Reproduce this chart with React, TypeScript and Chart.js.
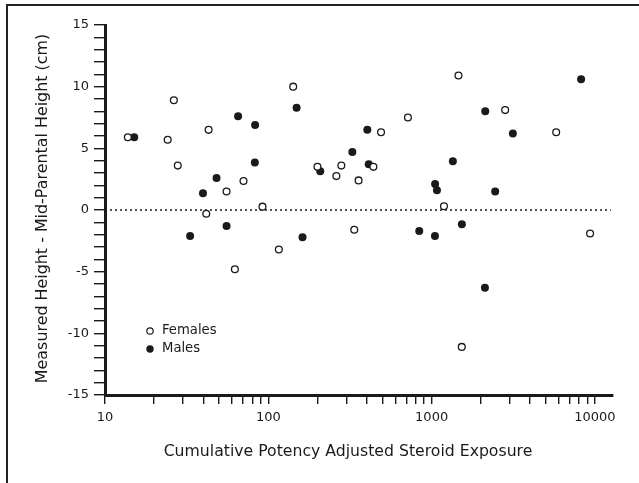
import React, { useEffect, useRef } from "react";
import { Chart, registerables } from "chart.js";

Chart.register(...registerables);

// ---- Data ----
const femaleX = [13.8, 24.2, 26.4, 27.9, 41.7, 43.1, 55.5, 62.4, 70.5, 92.1, 116, 142, 200, 261, 280, 336, 357, 440, 490, 716, 1190, 1460, 1530, 2820, 5790, 9340];
const femaleY = [5.9, 5.7, 8.9, 3.6, -0.3, 6.5, 1.5, -4.8, 2.35, 0.27, -3.2, 10.0, 3.5, 2.75, 3.6, -1.6, 2.4, 3.5, 6.3, 7.5, 0.3, 10.9, -11.1, 8.1, 6.3, -1.9];

const maleX = [15.1, 33.2, 39.8, 48.2, 55.5, 65.3, 83.0, 82.7, 149, 162, 208, 327, 404, 412, 840, 1050, 1078, 1048, 1349, 1532, 2120, 2130, 2450, 3143, 8227];
const maleY = [5.9, -2.1, 1.35, 2.6, -1.3, 7.6, 6.9, 3.85, 8.3, -2.2, 3.15, 4.7, 6.5, 3.7, -1.7, 2.1, 1.6, -2.1, 3.95, -1.15, -6.3, 8.0, 1.5, 6.2, 10.6];

const refLineX = [10, 12500];
const refLineY = [0, 0];

const xTickValues = [10, 20, 30, 40, 50, 60, 70, 80, 90, 100, 200, 300, 400, 500, 600, 700, 800, 900, 1000, 2000, 3000, 4000, 5000, 6000, 7000, 8000, 9000, 10000];
const xLabelValues = [10, 100, 1000, 10000];
const yTickValues = [-15, -14, -13, -12, -11, -10, -9, -8, -7, -6, -5, -4, -3, -2, -1, 0, 1, 2, 3, 4, 5, 6, 7, 8, 9, 10, 11, 12, 13, 14, 15];
const yLabelValues = [-15, -10, -5, 0, 5, 10, 15];

const xTitle = "Cumulative Potency Adjusted Steroid Exposure";
const yTitle = "Measured Height - Mid-Parental Height (cm)";
const seriesLabels = ["Females", "Males"];

const FONT = "'DejaVu Sans', sans-serif";
const INK = "#1a1a1a";

export default function App() {
  const ref = useRef<HTMLCanvasElement | null>(null);

  useEffect(() => {
    if (!ref.current) return;

    const decor = {
      id: "decor",
      beforeDraw(chart: any) {
        const ctx = chart.ctx;
        ctx.save();
        ctx.fillStyle = "#fff";
        ctx.fillRect(0, 0, chart.width, chart.height);
        ctx.strokeStyle = "#222";
        ctx.lineWidth = 2;
        ctx.beginPath();
        ctx.moveTo(7, chart.height + 2);
        ctx.lineTo(7, 5);
        ctx.lineTo(chart.width + 2, 5);
        ctx.stroke();
        ctx.restore();
      },
      afterDraw(chart: any) {
        const ctx = chart.ctx;
        ctx.save();
        ctx.fillStyle = INK;
        ctx.textAlign = "center";
        ctx.textBaseline = "middle";
        ctx.font = `15.7px ${FONT}`;
        ctx.fillText(xTitle, 348, 452);
        ctx.font = `15.9px ${FONT}`;
        ctx.translate(43, 208.5);
        ctx.rotate(-Math.PI / 2);
        ctx.fillText(yTitle, 0, 0);
        ctx.restore();

        // legend
        ctx.save();
        const lx = 150;
        const ly = [331, 349];
        ctx.font = `13.2px ${FONT}`;
        ctx.textAlign = "left";
        ctx.textBaseline = "middle";
        // females (open)
        ctx.beginPath();
        ctx.arc(lx, ly[0], 3.2, 0, Math.PI * 2);
        ctx.fillStyle = "#fff";
        ctx.fill();
        ctx.lineWidth = 1.2;
        ctx.strokeStyle = INK;
        ctx.stroke();
        // males (filled)
        ctx.beginPath();
        ctx.arc(lx, ly[1], 3.7, 0, Math.PI * 2);
        ctx.fillStyle = INK;
        ctx.fill();
        ctx.fillText(seriesLabels[0], 162, ly[0]);
        ctx.fillText(seriesLabels[1], 162, ly[1]);
        ctx.restore();
      },
    };

    const chart = new Chart(ref.current, {
      type: "scatter",
      data: {
        datasets: [
          {
            type: "line",
            label: "zero",
            data: refLineX.map((x, i) => ({ x, y: refLineY[i] })),
            borderColor: INK,
            borderWidth: 1.4,
            borderDash: [2, 3],
            pointRadius: 0,
            fill: false,
          } as any,
          {
            label: seriesLabels[0],
            data: femaleX.map((x, i) => ({ x, y: femaleY[i] })),
            pointRadius: 3.4,
            pointBackgroundColor: "#fff",
            pointBorderColor: INK,
            pointBorderWidth: 1.3,
          },
          {
            label: seriesLabels[1],
            data: maleX.map((x, i) => ({ x, y: maleY[i] })),
            pointRadius: 4,
            pointBackgroundColor: INK,
            pointBorderColor: INK,
            pointBorderWidth: 0,
          },
        ],
      },
      options: {
        animation: false,
        responsive: false,
        devicePixelRatio: 1,
        layout: { padding: { left: 0, top: 25, right: 26, bottom: 0 } },
        plugins: {
          legend: { display: false },
          tooltip: { enabled: false },
        },
        scales: {
          x: {
            type: "logarithmic",
            min: 10,
            max: 12900,
            afterFit: (s: any) => {
              s.height = 88;
            },
            afterBuildTicks: (s: any) => {
              s.ticks = xTickValues.map((v) => ({ value: v }));
            },
            border: { display: true, color: INK, width: 3 },
            grid: {
              display: true,
              drawOnChartArea: false,
              drawTicks: true,
              tickLength: 9,
              color: INK,
              lineWidth: 1.4,
            },
            ticks: {
              autoSkip: false,
              maxRotation: 0,
              padding: 6,
              color: INK,
              font: { family: FONT, size: 13 },
              callback: (v: any) => (xLabelValues.includes(Number(v)) ? String(v) : ""),
            },
          },
          y: {
            type: "linear",
            min: -15,
            max: 15,
            afterFit: (s: any) => {
              s.width = 105;
            },
            afterBuildTicks: (s: any) => {
              s.ticks = yTickValues.map((v) => ({ value: v }));
            },
            border: { display: true, color: INK, width: 3 },
            grid: {
              display: true,
              drawOnChartArea: false,
              drawTicks: true,
              tickLength: 11,
              color: INK,
              lineWidth: 1.4,
            },
            ticks: {
              autoSkip: false,
              padding: 5,
              color: INK,
              font: { family: FONT, size: 13 },
              callback: (v: any) => (yLabelValues.includes(Number(v)) ? String(v) : ""),
            },
          },
        },
      },
      plugins: [decor],
    });

    return () => chart.destroy();
  }, []);

  return (
    <div style={{ position: "fixed", left: 0, top: 0, width: 639, height: 483, background: "#fff" }}>
      <canvas ref={ref} width={639} height={483} style={{ display: "block", width: 639, height: 483 }} />
    </div>
  );
}
